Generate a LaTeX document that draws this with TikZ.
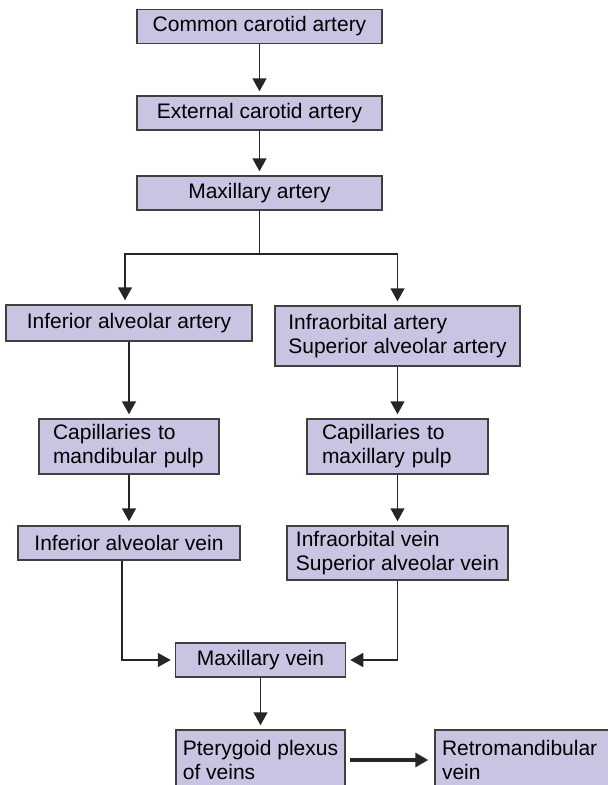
\documentclass[tikz,border=0pt]{standalone}
\usepackage{fontspec}
\setmainfont{Liberation Sans}
\usetikzlibrary{shapes.geometric,arrows.meta}
\definecolor{boxfill}{RGB}{200,197,227}
\tikzstyle{box} = [rectangle, minimum height=34pt, inner sep=0pt, text centered, draw=black!75, line width=1.5pt, fill=boxfill, font=\fontsize{21}{24}\selectfont]
\tikzstyle{multibox} = [box, align=left, inner ysep=0pt]
\tikzstyle{line} = [line width=1.5pt, draw=black!85]
\tikzstyle{arrow} = [line, -{Triangle[length=13pt,width=14pt]}, shorten >=4pt]
\tikzstyle{bigarrow} = [line width=3.5pt, draw=black!85, -{Triangle[length=13pt,width=14pt]}, shorten >=6pt, shorten <=4pt]

\begin{document}
\begin{tikzpicture}[x=1pt, y=1pt, node distance=80pt]
\clip (0,0) rectangle (608,-785);
\node (common) [box, minimum width=245pt] at (259.5,-26.5) {Common carotid artery};
\node (external) [box, minimum width=245pt, node distance=86.5pt, below of=common] {External carotid artery};
\node (maxart) [box, minimum width=245pt, below of=external] {Maxillary artery};
\node (infalvart) [box, minimum width=246pt, minimum height=36pt, node distance=130pt, below of=maxart, xshift=-130.5pt] {Inferior alveolar artery};
\node (infraorbart) [multibox, minimum width=245pt, minimum height=60pt, node distance=143pt, below of=maxart, xshift=138pt] {Infraorbital artery\\Superior alveolar artery};
\node (capmand) [multibox, text width=152pt, inner xsep=14pt, minimum height=55pt, node distance=123.5pt, below of=infalvart] {Capillaries to\\mandibular pulp};
\node (capmax) [multibox, text width=151pt, inner xsep=15pt, minimum height=55pt, node distance=110.5pt, below of=infraorbart] {Capillaries to\\maxillary pulp};
\node (infalvvein) [box, minimum width=222pt, node distance=96.5pt, below of=capmand] {Inferior alveolar vein};
\node (infraorbvein) [multibox, minimum width=221pt, minimum height=54pt, node distance=106.5pt, below of=capmax] {Infraorbital vein\\Superior alveolar vein};
\node (maxvein) [box, minimum width=170pt, node distance=467pt, below of=maxart, xshift=1pt] {Maxillary vein};
\node (ptery) [multibox, minimum width=169pt, minimum height=60pt, node distance=100pt, below of=maxvein] {Pterygoid plexus\\of veins};
\node (retro) [multibox, text width=176pt, inner xsep=7pt, minimum height=60pt, node distance=269.5pt, right of=ptery] {Retromandibular\\vein};

\draw [arrow] (common) -- (external);
\draw [arrow] (external) -- (maxart);
\draw [line] (maxart.south) -- ++(0,-43) coordinate (split);
\draw [arrow] (split) -| ([xshift=-4pt]infalvart.north);
\draw [arrow] (split) -| (infraorbart.north);
\draw [arrow] (infalvart) -- (capmand);
\draw [arrow] (infraorbart) -- (capmax);
\draw [arrow] (capmand) -- (infalvvein);
\draw [arrow] (capmax) -- (infraorbvein);
\draw [arrow] ([xshift=-7pt]infalvvein.south) |- (maxvein.west);
\draw [arrow] (infraorbvein.south) |- (maxvein.east);
\draw [arrow] (maxvein) -- (ptery);
\draw [bigarrow] (ptery) -- (retro);

\end{tikzpicture}
\end{document}
